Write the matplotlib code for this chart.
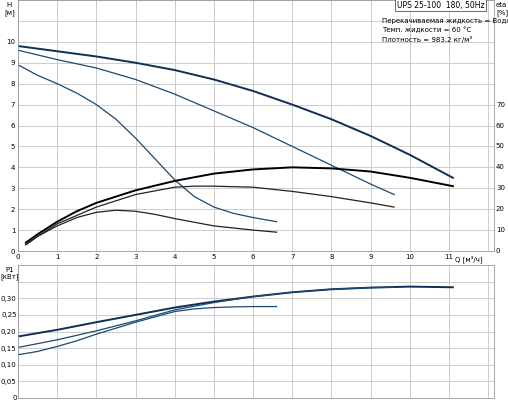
import matplotlib.pyplot as plt
import numpy as np

# head curves H [m]
q1 = [0, 1, 2, 3, 4, 5, 6, 7, 8, 9, 10, 11.1]
h1 = [9.8, 9.55, 9.3, 9.0, 8.65, 8.2, 7.65, 7.0, 6.3, 5.5, 4.6, 3.5]
q2 = [0, 1, 2, 3, 4, 5, 6, 7, 8, 9, 9.6]
h2 = [9.6, 9.15, 8.75, 8.2, 7.5, 6.7, 5.9, 5.0, 4.1, 3.2, 2.7]
q3 = [0, 0.5, 1, 1.5, 2, 2.5, 3, 3.5, 4, 4.5, 5, 5.5, 6, 6.6]
h3 = [8.9, 8.4, 8.0, 7.55, 7.0, 6.3, 5.4, 4.4, 3.4, 2.6, 2.1, 1.8, 1.6, 1.4]

# efficiency curves eta [%]
qe1 = [0.2, 0.5, 1, 1.5, 2, 3, 4, 5, 6, 7, 8, 9, 10, 11.1]
e1 = [4, 8, 14, 19, 23, 29, 33.5, 37, 39, 40, 39.5, 38, 35, 31]
qe2 = [0.2, 0.5, 1, 1.5, 2, 3, 4, 4.5, 5, 6, 7, 8, 9, 9.6]
e2 = [3, 7, 13, 17, 21, 27, 30.5, 31, 31, 30.5, 28.5, 26, 23, 21]
qe3 = [0.2, 0.5, 1, 1.5, 2, 2.5, 3, 3.5, 4, 5, 6, 6.6]
e3 = [3, 7, 12, 16, 18.5, 19.5, 19, 17.5, 15.5, 12, 10, 9]

# power curves P1 [kW]
qp1 = [0, 1, 2, 3, 4, 5, 6, 7, 8, 9, 10, 11.1]
p1 = [0.185, 0.205, 0.228, 0.25, 0.272, 0.29, 0.305, 0.318, 0.327, 0.332, 0.335, 0.333]
qp2 = [0, 1, 2, 3, 4, 5, 6, 7, 8, 9, 9.6]
p2 = [0.152, 0.175, 0.202, 0.232, 0.265, 0.287, 0.305, 0.318, 0.327, 0.332, 0.333]
qp3 = [0, 0.5, 1, 1.5, 2, 3, 4, 4.5, 5, 5.5, 6, 6.6]
p3 = [0.13, 0.14, 0.155, 0.172, 0.192, 0.228, 0.26, 0.268, 0.272, 0.274, 0.275, 0.275]

blue = "#1a4a72"
plt.rcParams["font.size"] = 5

fig = plt.figure(figsize=(5.08, 4.01), dpi=100)
ax = fig.add_axes([18 / 508, 1 - 251 / 401, 476 / 508, 251 / 401])
ax2 = fig.add_axes([18 / 508, 1 - 398 / 401, 476 / 508, 133 / 401])

ax.plot(q1, h1, color="#0f2f55", lw=1.4)
ax.plot(q2, h2, color=blue, lw=0.9)
ax.plot(q3, h3, color=blue, lw=0.9)
ax.plot(qe1, np.array(e1) / 10, color="black", lw=1.4)
ax.plot(qe2, np.array(e2) / 10, color="#222222", lw=0.9)
ax.plot(qe3, np.array(e3) / 10, color="#222222", lw=0.9)

ax.set_xlim(0, 12.15)
ax.set_ylim(0, 12)
ax.set_xticks(range(0, 13))
ax.set_xticklabels([str(i) for i in range(0, 12)] + [""])
ax.set_yticks(range(0, 13))
ax.set_yticklabels([str(i) for i in range(0, 11)] + ["", ""])
ax.grid(True, color="#cccccc", lw=0.7)
ax.tick_params(length=0, pad=2)
ax.text(-0.22, 11.9, "H\n[м]", ha="center", va="top", fontsize=5)
ax.text(12.2, 11.9, "eta\n[%]", ha="left", va="top", fontsize=5)
ax.text(11.85, -0.2, "Q [м³/ч]", ha="right", va="top", fontsize=5)
for v in range(0, 8):
    ax.text(12.2, v, str(v * 10), ha="left", va="center", fontsize=5)
ax.text(11.9, 11.75, "UPS 25-100  180, 50Hz", ha="right", va="center", fontsize=5.5,
        bbox=dict(facecolor="white", edgecolor="#555555", lw=0.6, pad=1))
ax.text(9.3, 11.15, "Перекачиваемая жидкость = Вода\nТемп. жидкости = 60 °C\nПлотность = 983.2 кг/м³",
        ha="left", va="top", fontsize=5, linespacing=1.5)

ax2.plot(qp1, p1, color="#0f2f55", lw=1.4)
ax2.plot(qp2, p2, color=blue, lw=0.9)
ax2.plot(qp3, p3, color=blue, lw=0.9)
ax2.set_xlim(0, 12.15)
ax2.set_ylim(0, 0.4)
ax2.set_xticks(range(0, 13))
ax2.set_xticklabels([])
yt = [0, 0.05, 0.10, 0.15, 0.20, 0.25, 0.30, 0.35]
ax2.set_yticks(yt)
ax2.set_yticklabels(["0", "0,05", "0,10", "0,15", "0,20", "0,25", "0,30", ""])
ax2.grid(True, color="#cccccc", lw=0.7)
ax2.tick_params(length=0, pad=1)
ax2.text(-0.22, 0.395, "P1\n[кВт]", ha="center", va="top", fontsize=5)

for a in (ax, ax2):
    for s in a.spines.values():
        s.set_color("#999999")
        s.set_linewidth(0.6)

fig.savefig("out.png", dpi=100)
